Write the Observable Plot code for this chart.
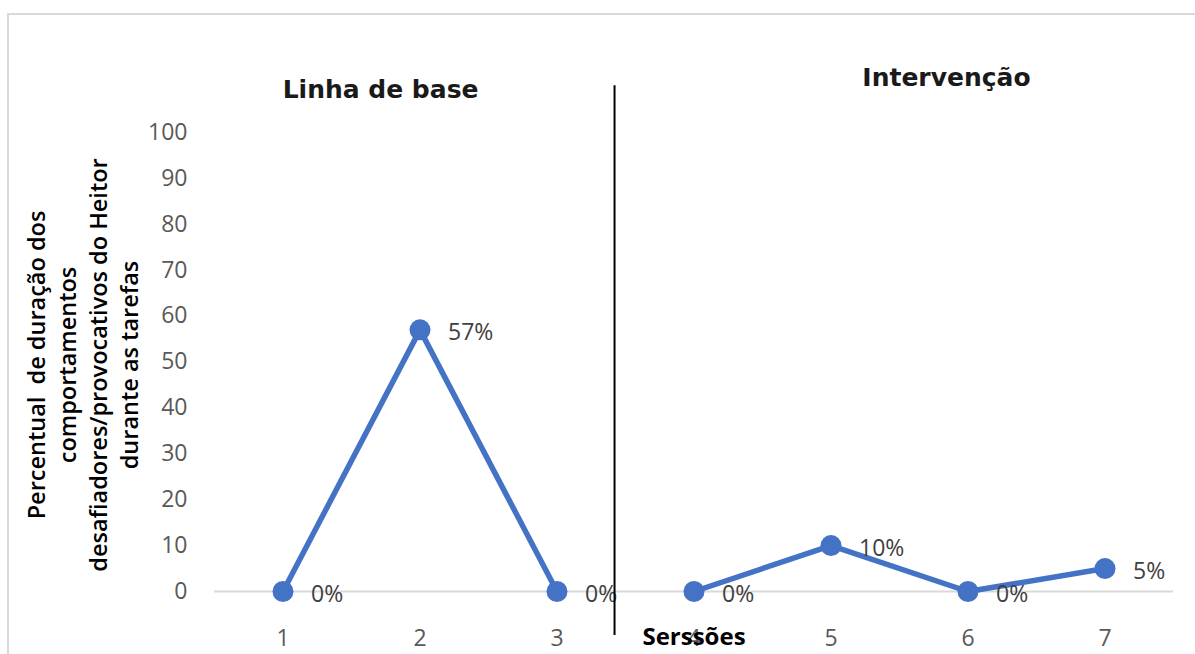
<!DOCTYPE html>
<html>
<head>
<meta charset="utf-8">
<script src="https://cdn.jsdelivr.net/npm/d3@7"></script>
<script src="https://cdn.jsdelivr.net/npm/@observablehq/plot@0.6"></script>
<style>
  html, body { margin: 0; padding: 0; background: #fff; overflow: hidden; }
  #wrap { position: relative; width: 1195px; height: 654px; }
  #frame { position: absolute; left: 7px; top: 13px; width: 1300px; height: 800px; border: 2px solid #d9d9d9; box-sizing: border-box; pointer-events: none; }
  #chart { position: absolute; left: 0; top: 0; }
</style>
</head>
<body>
<div id="wrap"><div id="chart"></div><div id="frame"></div></div>
<script>
// Data
const sessions = [1, 2, 3, 4, 5, 6, 7];
const values = [0, 57, 0, 0, 10, 0, 5];
const phases = ["Linha de base", "Linha de base", "Linha de base", "Intervenção", "Intervenção", "Intervenção", "Intervenção"];
const valueLabels = ["0%", "57%", "0%", "0%", "10%", "0%", "5%"];
const xTicks = [1, 2, 3, 4, 5, 6, 7];
const yTicks = [0, 10, 20, 30, 40, 50, 60, 70, 80, 90, 100];
const phaseTitles = ["Linha de base", "Intervenção"];
const xAxisTitle = "Serssões";
const yAxisTitle = "Percentual  de duração dos\ncomportamentos\ndesafiadores/provocativos do Heitor\ndurante as tarefas";
const phaseChange = 3.42;

const data = sessions.map((s, i) => ({session: s, value: values[i], phase: phases[i], label: valueLabels[i]}));
const blue = "#4472c4";

const chart = Plot.plot({
  width: 1195,
  height: 654,
  marginLeft: 214,
  marginRight: 22,
  marginTop: 132,
  marginBottom: 63,
  style: {fontFamily: "Open Sans", background: "transparent"},
  x: {type: "linear", domain: [0.5, 7.5], label: null},
  y: {domain: [0, 100], label: null},
  marks: [
    Plot.ruleY([0], {stroke: "#d9d9d9", strokeWidth: 2}),
    Plot.axisY({ticks: yTicks, tickSize: 0, tickPadding: 27, fontSize: 23, color: "#595959", label: null}),
    Plot.axisX({ticks: xTicks, tickSize: 0, tickPadding: 38, fontSize: 23, color: "#595959", label: null, tickFormat: d => String(d)}),
    Plot.line(data, {x: "session", y: "value", z: "phase", stroke: blue, strokeWidth: 5.5}),
    Plot.dot(data, {x: "session", y: "value", r: 10.5, fill: blue}),
    Plot.text(data, {x: "session", y: "value", text: "label", dx: 28, dy: 3, textAnchor: "start", fontSize: 23, fill: "#404040"}),
    Plot.ruleX([phaseChange], {y1: 110.2, y2: -9.6, stroke: "#000", strokeWidth: 2}),
    Plot.text([phaseTitles[0]], {x: 1.712, y: 109.2, text: d => d, fontFamily: "DejaVu Sans", fontWeight: "bold", fontSize: 25, fill: "#1a1a1a"}),
    Plot.text([phaseTitles[1]], {x: 5.843, y: 111.8, text: d => d, fontFamily: "DejaVu Sans", fontWeight: "bold", fontSize: 25, fill: "#1a1a1a"}),
    Plot.text([xAxisTitle], {x: 4, y: 0, dy: 46, text: d => d, fontWeight: "bold", fontSize: 24, fill: "#000"}),
    Plot.text([yAxisTitle], {frameAnchor: "left", dx: -133, dy: 3, text: d => d, rotate: -90, lineHeight: 1.32, lineAnchor: "middle", textAnchor: "middle", fontWeight: 600, fontSize: 23.5, fill: "#000"})
  ]
});
document.getElementById("chart").appendChild(chart);
</script>
</body>
</html>
